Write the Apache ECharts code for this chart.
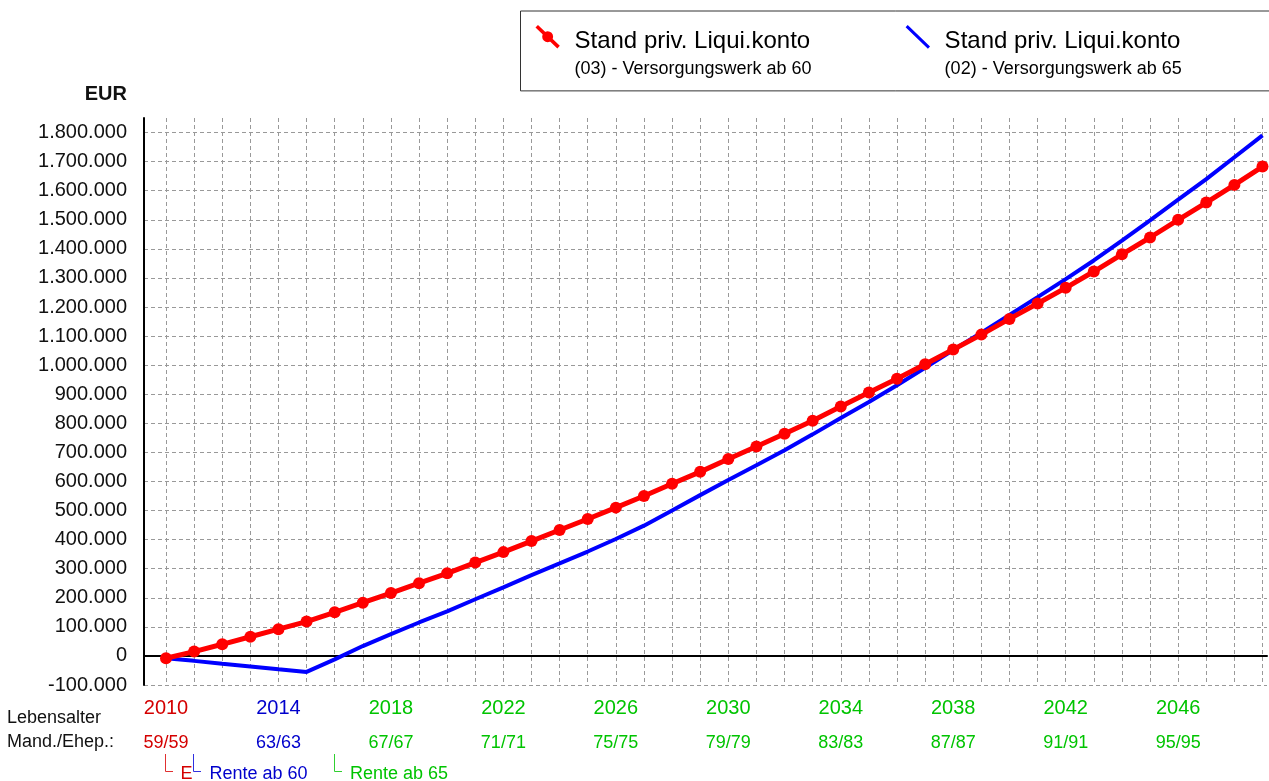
<!DOCTYPE html>
<html>
<head>
<meta charset="utf-8">
<title>Stand priv. Liqui.konto</title>
<script src="https://cdn.jsdelivr.net/npm/echarts@6/dist/echarts.min.js"></script>
<style>
  html, body { margin: 0; padding: 0; background: #fff; }
  #main { width: 1269px; height: 781px; }
</style>
</head>
<body>
<div id="main"></div>
<script>
var FONT = 'Liberation Sans, Arial, Helvetica, sans-serif';

// Jahre
var years = [2010, 2011, 2012, 2013, 2014, 2015, 2016, 2017, 2018, 2019,
  2020, 2021, 2022, 2023, 2024, 2025, 2026, 2027, 2028, 2029,
  2030, 2031, 2032, 2033, 2034, 2035, 2036, 2037, 2038, 2039,
  2040, 2041, 2042, 2043, 2044, 2045, 2046, 2047, 2048, 2049];

// (03) - Versorgungswerk ab 60
var stand03 = [-8000, 15000, 40000, 66000, 92000, 118000, 150000, 183000, 216000, 250000,
  284000, 321000, 357000, 395000, 433000, 471000, 510000, 550000, 592000, 633000,
  677000, 720000, 764000, 809000, 858000, 906000, 953000, 1003000, 1054000, 1105000,
  1159000, 1212000, 1266000, 1322000, 1381000, 1439000, 1500000, 1559000, 1620000, 1683000];

// (02) - Versorgungswerk ab 65
var stand02 = [-8000, -17000, -27000, -36000, -46000, -55000, -12000, 34000, 75000, 115000,
  153000, 195000, 236000, 278000, 318000, 359000, 402000, 448000, 500000, 553000,
  605000, 656000, 707000, 762000, 818000, 873000, 931000, 991000, 1052000, 1112000,
  1173000, 1234000, 1296000, 1360000, 1428000, 1498000, 1569000, 1640000, 1715000, 1790000];

var yearLabels = [2010, 2014, 2018, 2022, 2026, 2030, 2034, 2038, 2042, 2046];
var ageLabels = ['59/59', '63/63', '67/67', '71/71', '75/75', '79/79', '83/83', '87/87', '91/91', '95/95'];
var yTicks = [-100000, 0, 100000, 200000, 300000, 400000, 500000, 600000, 700000, 800000, 900000,
  1000000, 1100000, 1200000, 1300000, 1400000, 1500000, 1600000, 1700000, 1800000];

var RED = '#ff0000', BLUE = '#0000ff';
var labRed = '#d40000', labBlue = '#0000cc', labGreen = '#00c400';

function labelColor(v) {
  var i = yearLabels.indexOf(Number(v));
  return i === 0 ? labRed : (i === 1 ? labBlue : labGreen);
}
function fmtEUR(v) {
  return String(v).replace(/\B(?=(\d{3})+(?!\d))/g, '.');
}

var X_MIN = 2009.2175, X_MAX = 2049.16;

var chart = echarts.init(document.getElementById('main'));

var option = {
  animation: false,
  backgroundColor: '#fff',
  textStyle: { fontFamily: FONT },
  grid: { left: 144, right: 2, top: 118, bottom: 96 },
  legend: {
    orient: 'horizontal',
    left: 520.5,
    top: 11,
    width: 900,
    padding: [14, 130, 7, 15],
    borderColor: '#333',
    borderWidth: 1,
    backgroundColor: '#fff',
    itemGap: 94,
    itemWidth: 34,
    itemHeight: 59,
    selectedMode: false,
    itemStyle: { borderWidth: 0 },
    data: [
      { name: '(03) - Versorgungswerk ab 60',
        icon: 'path://M2.24 -0.3 L24.24 20.7 L21.76 23.3 L-0.24 2.3 Z M6.5 11.5 A5.5 5.5 0 1 1 17.5 11.5 A5.5 5.5 0 1 1 6.5 11.5 Z M33.9 58.9 L34 58.9 L34 59 Z' },
      { name: '(02) - Versorgungswerk ab 65',
        icon: 'path://M1.8 -0.3 L24.3 21.3 L22.2 23.5 L-0.3 1.9 Z M33.9 58.9 L34 58.9 L34 59 Z' }
    ],
    formatter: function (name) {
      return '{a|Stand priv. Liqui.konto}\n{b|' + name + '}';
    },
    textStyle: {
      rich: {
        a: { fontSize: 24, lineHeight: 30, color: '#000', fontFamily: FONT },
        b: { fontSize: 18, lineHeight: 26, color: '#000', fontFamily: FONT }
      }
    }
  },
  xAxis: [
    {
      type: 'value', min: X_MIN, max: X_MAX, position: 'bottom',
      axisLine: { show: false, onZero: false },
      axisTick: { show: false, customValues: years },
      splitLine: { show: true, lineStyle: { color: '#999', width: 1, type: [4, 3] } },
      axisLabel: {
        customValues: yearLabels, margin: 13, fontSize: 20, lineHeight: 20,
        fontFamily: FONT,
        color: function (v) { return labelColor(v); },
        formatter: function (v) { return String(v); }
      }
    },
    {
      type: 'value', min: X_MIN, max: X_MAX, position: 'bottom', offset: 37,
      axisLine: { show: false, onZero: false },
      axisTick: { show: false, customValues: yearLabels },
      splitLine: { show: false },
      axisLabel: {
        customValues: yearLabels, margin: 12, fontSize: 18, lineHeight: 18,
        fontFamily: FONT,
        color: function (v) { return labelColor(v); },
        formatter: function (v) { return ageLabels[yearLabels.indexOf(Number(v))]; }
      }
    },
    {
      type: 'value', min: X_MIN, max: X_MAX, position: 'bottom', z: 1,
      axisLine: { show: true, onZero: true, lineStyle: { color: '#000', width: 2 } },
      axisTick: { show: false },
      axisLabel: { show: false },
      splitLine: { show: false }
    }
  ],
  yAxis: {
    type: 'value', min: -100000, max: 1850000,
    name: 'EUR', nameLocation: 'end', nameGap: 14,
    nameTextStyle: { fontSize: 20, fontWeight: 'bold', color: '#111', align: 'right', padding: [0, 17, 0, 0], fontFamily: FONT },
    axisLine: { show: true, onZero: false, lineStyle: { color: '#000', width: 2 } },
    axisTick: { show: false, customValues: yTicks },
    splitLine: { show: true, lineStyle: { color: '#999', width: 1, type: [4, 3] } },
    axisLabel: {
      customValues: yTicks, margin: 17, fontSize: 20, color: '#111', fontFamily: FONT,
      formatter: fmtEUR
    }
  },
  series: [
    {
      name: '(03) - Versorgungswerk ab 60',
      type: 'line', z: 3,
      data: years.map(function (y, i) { return [y, stand03[i]]; }),
      symbol: 'circle', symbolSize: 12, showSymbol: true,
      itemStyle: { color: RED, borderWidth: 0 },
      lineStyle: { color: RED, width: 5 }
    },
    {
      name: '(02) - Versorgungswerk ab 65',
      type: 'line', z: 2,
      data: years.map(function (y, i) { return [y, stand02[i]]; }),
      symbol: 'none', showSymbol: false,
      itemStyle: { color: BLUE },
      lineStyle: { color: BLUE, width: 4 }
    }
  ]
};

chart.setOption(option);

// Markierungen unter der Achse
function px(yr) { return chart.convertToPixel({ xAxisIndex: 0 }, yr); }
function corner(x, color) {
  return { type: 'polyline', silent: true,
    shape: { points: [[x, 754], [x, 771.5], [x + 7.5, 771.5]] },
    style: { stroke: color, lineWidth: 1, fill: null } };
}
function txt(x, y, s, color) {
  return { type: 'text', silent: true, x: x, y: y,
    style: { text: s, fill: color, fontSize: 18, fontFamily: FONT, verticalAlign: 'middle' } };
}
var x10 = Math.round(px(2010)) - 0.5;
var x11 = Math.round(px(2011)) - 0.5;
var x16 = Math.round(px(2016)) - 0.5;

chart.setOption({
  graphic: [
    txt(7, 718, 'Lebensalter', '#111'),
    txt(7, 742.5, 'Mand./Ehep.:', '#111'),
    corner(x10, '#e03030'),
    txt(x10 + 15, 774, 'E', labRed),
    corner(x11, '#3030e0'),
    txt(x11 + 16, 774, 'Rente ab 60', labBlue),
    corner(x16, '#30d030'),
    txt(x16 + 15.5, 774, 'Rente ab 65', labGreen)
  ]
});
</script>
</body>
</html>
